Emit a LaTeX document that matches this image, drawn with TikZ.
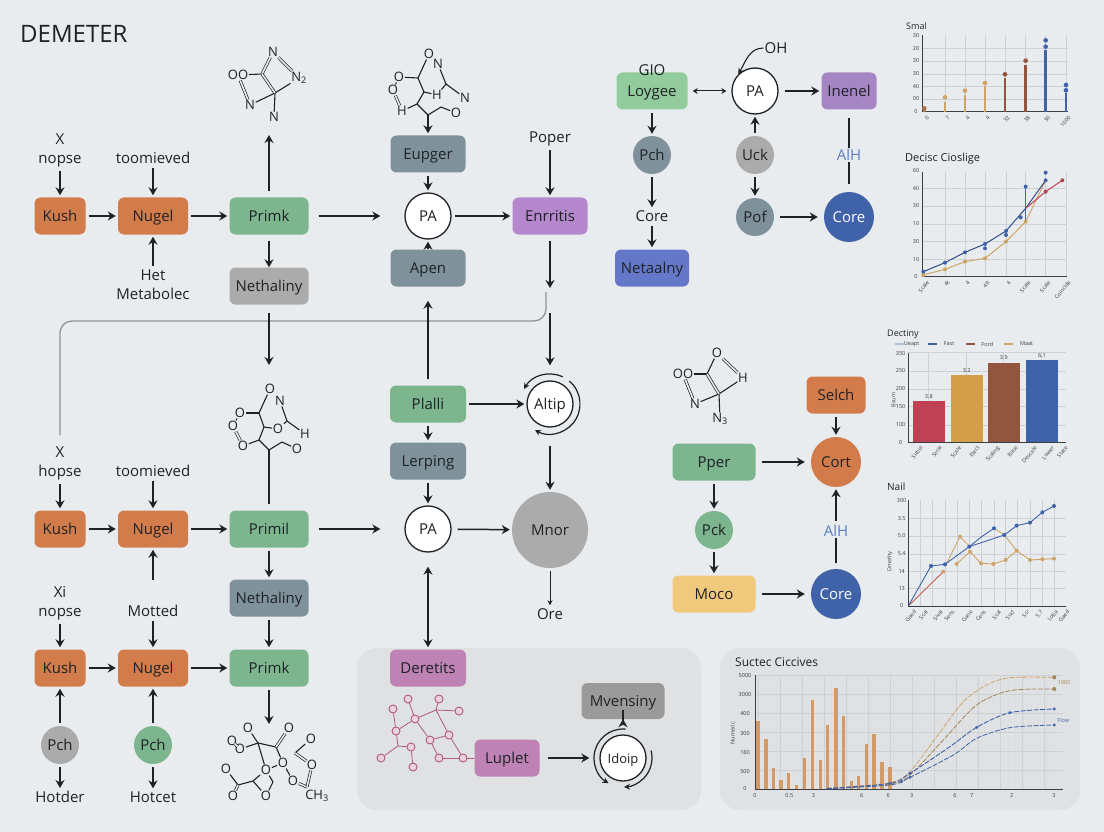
\documentclass[tikz,border=0pt]{standalone}
\usepackage{fontspec}
\usetikzlibrary{arrows.meta}
\setmainfont{Open Sans}
\definecolor{bgcol}{HTML}{E9ECEE}
\definecolor{panelcol}{HTML}{DFE1E3}
\definecolor{inkcol}{HTML}{1E2226}
\definecolor{orangec}{HTML}{D27C4C}
\definecolor{greenc}{HTML}{7DB58F}
\definecolor{lightgreen}{HTML}{93CC9C}
\definecolor{grayc}{HTML}{ABABAB}
\definecolor{slatec}{HTML}{7F929C}
\definecolor{purplec}{HTML}{B587CC}
\definecolor{violetc}{HTML}{A685C4}
\definecolor{pinkc}{HTML}{BE82B4}
\definecolor{indigoc}{HTML}{6577C8}
\definecolor{bluec}{HTML}{3F62A8}
\definecolor{labelblue}{HTML}{5B7FC0}
\definecolor{sandc}{HTML}{F0C97C}
\definecolor{redc}{HTML}{BE4155}
\definecolor{goldc}{HTML}{D49E48}
\definecolor{brownc}{HTML}{92553F}
\definecolor{tanc}{HTML}{CFA468}
\definecolor{barorange}{HTML}{D29A66}
\definecolor{molpink}{HTML}{B0597C}
\definecolor{atompink}{HTML}{EBD3DE}
\definecolor{gridc}{HTML}{CDD1D6}
\definecolor{axisc}{HTML}{3A3F45}

\begin{document}
\begin{tikzpicture}[x=1pt, y=-1pt, >={Stealth[length=8pt,width=9pt]},
    every node/.style={text=inkcol, font=\fontsize{15}{19}\selectfont},
    lbl/.style={align=center, inner sep=1pt},
    stepbox/.style={rectangle, rounded corners=6pt, fill=#1, inner sep=0pt, minimum height=37pt, text height=11pt, text depth=0pt},
    bubble/.style={circle, fill=#1, inner sep=0pt, minimum size=38pt, text height=11pt, text depth=0pt},
    ringnode/.style={circle, draw=inkcol, fill=white, line width=1.3pt, inner sep=0pt, minimum size=46pt, text height=11pt, text depth=0pt},
    arrow/.style={->, line width=1.5pt, draw=inkcol, shorten >=2pt, shorten <=3pt},
    thinarrow/.style={->, >={Stealth[length=5pt,width=5pt]}, line width=1pt, draw=inkcol, shorten >=2pt, shorten <=3pt},
    ring/.style={->, >={Stealth[length=6pt,width=6pt]}, line width=1.2pt, draw=inkcol},
    feedback/.style={line width=1.3pt, draw=gray!85, rounded corners=12pt},
    atom/.style={font=\fontsize{13}{13}\selectfont, inner sep=0.6pt},
    bond/.style={line width=1.1pt, draw=inkcol},
    dbond/.style={line width=.7pt, draw=inkcol, double=bgcol, double distance=1.6pt},
    pinkatom/.style={circle, draw=molpink, fill=atompink, line width=.9pt, inner sep=0pt, minimum size=8pt},
    pinkbond/.style={line width=.8pt, draw=molpink},
    title/.style={font=\fontsize{#1}{#1}\selectfont, anchor=west, inner sep=0pt},
    tick/.style={font=\fontsize{5.5}{6}\selectfont, inner sep=0pt, text=axisc},
    rtick/.style={tick, rotate=50, anchor=north east},
    gline/.style={line width=.4pt, draw=gridc},
    axis/.style={line width=.9pt, draw=axisc}]

\fill [bgcol] (0,0) rectangle (1104,832);
\useasboundingbox (0,0) rectangle (1104,832);
\fill [panelcol, rounded corners=20pt] (357,648) rectangle (701,810);
\fill [panelcol, rounded corners=20pt] (720,648) rectangle (1080,810);

\node [title=24] (demeter) at (20,34) {DEMETER};

% first row
\node [lbl] (xA) at (60,150) {X\\nopse};
\node [lbl] (toomA) at (153,158) {toomieved};
\node [lbl] (hetA) at (153,285) {Het\\Metabolec};
\node [stepbox=orangec, minimum width=51pt] (kushA) at (60,216) {Kush};
\node [stepbox=orangec, minimum width=70pt] (nugelA) at (153,216) {Nugel};
\node [stepbox=greenc, minimum width=79pt] (primkA) at (269,216) {Primk};
\node [stepbox=grayc, minimum width=79pt] (nethA) at (269,286) {Nethaliny};
\node [ringnode] (paA) at (428,216) {PA};
\node [stepbox=slatec, minimum width=75pt] (eupger) at (428,154) {Eupger};
\node [stepbox=slatec, minimum width=75pt] (apen) at (428,268) {Apen};
\node [stepbox=purplec, minimum width=75pt] (enrritis) at (550,216) {Enrritis};
\node [lbl] (poper) at (550,139) {Poper};
\coordinate (molAbase) at (269,135);
\coordinate (molBbase) at (428,114);
\coordinate (enrEnd) at (550,288);
\coordinate (altTop) at (550,313);
\coordinate (fbEnd) at (546,292);
\coordinate (fbTop) at (546,321);

\draw [arrow] (xA) -- (kushA);
\draw [arrow] (toomA) -- (nugelA);
\draw [arrow] (hetA) -- (nugelA);
\draw [arrow] (kushA) -- (nugelA);
\draw [arrow] (nugelA) -- (primkA);
\draw [arrow, shorten <=10pt, shorten >=24pt] (primkA) -- (paA);
\draw [arrow, shorten <=6pt, shorten >=0pt] (primkA) -- (molAbase);
\draw [arrow, shorten <=6pt, shorten >=0pt] (primkA) -- (nethA);
\draw [arrow, shorten <=0pt] (molBbase) -- (eupger);
\draw [arrow] (eupger) -- (paA);
\draw [arrow, shorten <=0pt] (apen) -- (paA);
\draw [arrow] (paA) -- (enrritis);
\draw [arrow] (poper) -- (enrritis);
\draw [arrow, shorten <=6pt, shorten >=0pt] (enrritis) -- (enrEnd);

% second row
\node [lbl] (xB) at (60,463) {X\\hopse};
\node [lbl] (toomB) at (153,471) {toomieved};
\node [stepbox=orangec, minimum width=51pt] (kushB) at (60,529) {Kush};
\node [stepbox=orangec, minimum width=70pt] (nugelB) at (153,529) {Nugel};
\node [stepbox=greenc, minimum width=79pt] (primilB) at (269,529) {Primil};
\node [stepbox=slatec, minimum width=79pt] (nethB) at (269,598) {Nethaliny};
\node [stepbox=greenc, minimum width=76pt] (plalli) at (428,404) {Plalli};
\node [ringnode] (altip) at (550,404) {Altip};
\node [stepbox=slatec, minimum width=76pt] (lerping) at (428,461) {Lerping};
\node [ringnode] (paB) at (428,529) {PA};
\node [bubble=grayc, minimum size=76pt] (mnor) at (550,530) {Mnor};
\node [lbl] (ore) at (550,614) {Ore};
\coordinate (molCnet) at (269,367);
\coordinate (molCfoot) at (269,450);
\coordinate (nethTail) at (269,313);

\draw [feedback, shorten <=10pt] (xB) |- (fbTop) -- (fbEnd);
\draw [arrow, shorten <=0pt] (nethTail) -- (molCnet);
\draw [arrow, shorten <=0pt, shorten >=15pt] (altTop) -- (altip);
\draw [arrow, shorten <=6pt, shorten >=14pt] (plalli) -- (apen);
\draw [arrow] (plalli) -- (altip);
\draw [arrow] (plalli) -- (lerping);
\draw [arrow] (lerping) -- (paB);
\draw [ring] (altip) ++(-50:30) arc (-50:120:30);
\draw [ring] (altip) ++(-65:30) arc (-65:-150:30);
\draw [arrow, shorten <=18pt] (altip) -- (mnor);
\draw [arrow, shorten <=6pt] (paB) -- (mnor);
\draw [thinarrow] (mnor) -- (ore);
\draw [arrow] (xB) -- (kushB);
\draw [arrow] (toomB) -- (nugelB);
\draw [arrow] (kushB) -- (nugelB);
\draw [arrow] (nugelB) -- (primilB);
\draw [arrow, shorten <=10pt, shorten >=24pt] (primilB) -- (paB);
\draw [line width=1.3pt, draw=inkcol, shorten >=6pt] (molCfoot) -- (primilB);
\draw [arrow] (primilB) -- (nethB);

% third row
\node [lbl] (xC) at (60,603) {Xi\\nopse};
\node [lbl] (mottedC) at (153,611) {Motted};
\node [stepbox=orangec, minimum width=51pt] (kushC) at (60,668) {Kush};
\node [stepbox=orangec, minimum width=70pt] (nugelC) at (153,668) {Nugel};
\node [stepbox=greenc, minimum width=79pt] (primkC) at (269,668) {Primk};
\node [bubble=grayc] (pchC) at (60,745) {Pch};
\node [bubble=greenc] (pchD) at (153,745) {Pch};
\node [lbl] (hotder) at (60,797) {Hotder};
\node [lbl] (hotcet) at (153,797) {Hotcet};
\coordinate (molDtop) at (269,724);
\coordinate (mottedUp) at (153,580);

\draw [arrow] (xC) -- (kushC);
\draw [arrow] (mottedC) -- (nugelC);
\draw [arrow, shorten <=0pt] (mottedUp) -- (nugelB);
\draw [arrow] (kushC) -- (nugelC);
\draw [arrow] (nugelC) -- (primkC);
\draw [arrow] (nethB) -- (primkC);
\draw [arrow, shorten >=0pt] (primkC) -- (molDtop);
\draw [arrow] (pchC) -- (kushC);
\draw [arrow] (pchD) -- (nugelC);
\draw [arrow] (pchC) -- (hotder);
\draw [arrow] (pchD) -- (hotcet);

% top right
\node [stepbox=lightgreen, minimum width=71pt] (loygee) at (652,91) {Loygee};
\node [lbl] (gio) at (652,70) {GIO};
\node [ringnode] (paC) at (755,91) {PA};
\node [stepbox=violetc, minimum width=55pt] (inenel) at (849,91) {Inenel};
\node [lbl] (oh) at (776,48) {OH};
\node [bubble=slatec] (pchE) at (652,155) {Pch};
\node [lbl] (coreT) at (652,216) {Core};
\node [stepbox=indigoc, minimum width=74pt] (netaal) at (652,268) {Netaalny};
\node [bubble=grayc] (uck) at (755,155) {Uck};
\node [bubble=slatec] (pof) at (755,217) {Pof};
\node [bubble=bluec, minimum size=50pt] (coreA) at (849,217) {\textcolor{white}{Core}};
\node [lbl, text=labelblue, fill=bgcol] (alhA) at (849,155) {AlH};

\draw [<->, >={Stealth[length=5pt,width=6pt]}, line width=1pt, draw=inkcol, shorten >=5pt, shorten <=5pt] (loygee) -- (paC);
\draw [arrow, shorten <=6pt] (paC) -- (inenel);
\draw [->, >={Stealth[length=6pt,width=6pt]}, line width=1.1pt, draw=inkcol] (oh) to [out=180, in=60] (paC.135);
\draw [arrow] (loygee) -- (pchE);
\draw [arrow] (pchE) -- (coreT);
\draw [arrow] (coreT) -- (netaal);
\draw [arrow] (uck) -- (paC);
\draw [arrow] (uck) -- (pof);
\draw [arrow, shorten <=6pt, shorten >=6pt] (pof) -- (coreA);
\draw [line width=1.3pt, draw=inkcol, shorten <=8pt] (inenel) -- (alhA);
\draw [line width=1.3pt, draw=inkcol, shorten <=8pt] (coreA) -- (alhA);

% lower right
\node [stepbox=orangec, minimum width=59pt] (selch) at (836,395) {Selch};
\node [bubble=orangec, minimum size=50pt] (cort) at (836,462) {Cort};
\node [stepbox=greenc, minimum width=83pt] (pper) at (714,462) {Pper};
\node [bubble=greenc] (pck) at (714,530) {Pck};
\node [stepbox=sandc, minimum width=83pt] (moco) at (714,594) {Moco};
\node [bubble=bluec, minimum size=50pt] (coreB) at (836,594) {\textcolor{white}{Core}};
\node [lbl, text=labelblue, fill=bgcol] (alhB) at (836,531) {AlH};

\draw [arrow] (selch) -- (cort);
\draw [arrow, shorten <=6pt, shorten >=6pt] (pper) -- (cort);
\draw [arrow] (pper) -- (pck);
\draw [arrow] (pck) -- (moco);
\draw [arrow, shorten <=6pt, shorten >=6pt] (moco) -- (coreB);
\draw [arrow] (alhB) -- (cort);
\draw [line width=1.3pt, draw=inkcol, shorten <=6pt] (coreB) -- (alhB);

% lower panel
\node [stepbox=pinkc, minimum width=76pt] (deretits) at (428,668) {Deretits};
\node [stepbox=pinkc, minimum width=65pt] (luplet) at (507,758) {Luplet};
\node [stepbox=grayc!90!black, minimum width=83pt, minimum height=36pt] (mvensiny) at (623,701) {Mvensiny};
\node [ringnode, font=\fontsize{13}{13}\selectfont] (idoip) at (623,758) {Idoip};

\draw [<->, line width=1.5pt, draw=inkcol, shorten >=2pt, shorten <=14pt] (paB) -- (deretits);
\draw [arrow, shorten <=8pt, shorten >=10pt] (luplet) -- (idoip);
\draw [ring] (idoip) ++(-15:29) arc (-15:88:29);
\draw [ring] (idoip) ++(-85:29) arc (-85:-240:29);
\draw [arrow, shorten <=24pt, shorten >=0pt] (idoip) -- (mvensiny);

% molecules
\foreach \n/\px/\py/\s in {mAa/273/52/N, mAb/299/78/N\textsubscript{2}, mAc/238/75/OO, mAd/250/105/N, mAe/274/117/N}
  \node [atom] (\n) at (\px,\py) {\s};
\coordinate (mAf) at (262,74);
\coordinate (mAg) at (275,93);
\foreach \a/\b in {mAc/mAf, mAg/mAb, mAg/mAe, mAg/mAd} \draw [bond] (\a) -- (\b);
\foreach \a/\b in {mAf/mAa, mAa/mAb, mAf/mAg, mAd/mAc} \draw [dbond] (\a) -- (\b);

\foreach \n/\px/\py/\s in {mBa/429/54/O, mBb/438/64/N, mBc/399/77/O, mBd/393/90/O, mBe/402/111/H, mBf/465/98/N, mBg/456/113/O, mBh/437/95/H}
  \node [atom] (\n) at (\px,\py) {\s};
\foreach \n/\px/\py in {mBi/418/78, mBj/424/92, mBk/417/104, mBl/428/115, mBm/441/107, mBn/446/84}
  \coordinate (\n) at (\px,\py);
\foreach \a/\b in {mBa/mBi, mBi/mBc, mBc/mBd, mBe/mBk, mBi/mBj, mBj/mBk, mBk/mBl, mBl/mBm, mBm/mBg, mBj/mBh, mBh/mBn, mBn/mBb, mBn/mBf}
  \draw [bond] (\a) -- (\b);
\draw [dbond] (mBd) -- (mBe);

\foreach \n/\px/\py/\s in {mCa/270/389/O, mCb/280/401/N, mCc/240/413/O, mCd/233/426/O, mCe/243/446/O, mCf/297/449/O, mCg/305/434/H, mCh/278/429/O}
  \node [atom] (\n) at (\px,\py) {\s};
\foreach \n/\px/\py in {mCi/259/413, mCj/264/427, mCk/259/440, mCl/287/421, mCm/282/442}
  \coordinate (\n) at (\px,\py);
\foreach \a/\b in {mCa/mCi, mCi/mCc, mCc/mCd, mCi/mCj, mCj/mCk, mCk/mCe, mCk/molCfoot, molCfoot/mCm, mCm/mCf, mCj/mCh, mCh/mCl, mCl/mCb, mCl/mCg}
  \draw [bond] (\a) -- (\b);
\draw [dbond] (mCd) -- (mCe);

\foreach \n/\px/\py/\s in {mDa/248/728/O, mDb/289/728/O, mDc/232/741/O, mDd/311/739/O, mDe/240/749/O, mDf/283/763/O, mDg/312/765/O, mDh/226/769/O, mDi/266/770/O, mDj/293/781/O, mDk/233/796/O, mDl/266/796/O, mDm/317/796/CH\textsubscript{3}}
  \node [atom] (\n) at (\px,\py) {\s};
\foreach \n/\px/\py in {mDn/258/743, mDo/276/747, mDq/295/753, mDr/238/785, mDs/253/781, mDt/273/782, mDu/307/787}
  \coordinate (\n) at (\px,\py);
\foreach \a/\b in {mDa/mDn, mDn/mDo, mDo/mDf, mDf/mDi, mDe/mDn, mDi/mDn, mDi/mDt, mDt/mDl, mDl/mDs, mDs/mDr, mDs/mDi, mDf/mDj, mDd/mDq, mDr/mDh}
  \draw [bond] (\a) -- (\b);
\foreach \a/\b in {mDo/mDb, mDc/mDe, mDq/mDg, mDr/mDk, mDj/mDu, mDg/mDu}
  \draw [dbond] (\a) -- (\b);

\foreach \n/\px/\py/\s in {mEa/717/353/O, mEb/683/374/OO, mEc/743/378/H, mEd/695/404/N, mEe/720/419/N\textsubscript{3}}
  \node [atom] (\n) at (\px,\py) {\s};
\coordinate (mEf) at (707,374);
\coordinate (mEg) at (719,394);
\foreach \a/\b in {mEb/mEf, mEf/mEa, mEg/mEc, mEg/mEd, mEg/mEe} \draw [bond] (\a) -- (\b);
\foreach \a/\b in {mEa/mEc, mEf/mEg, mEd/mEb} \draw [dbond] (\a) -- (\b);

\foreach \n/\px/\py in {mFa/408/699, mFb/439/699, mFc/393/709, mFd/459/711, mFe/415/719, mFf/396/731, mFg/430/740, mFh/449/735, mFi/411/747, mFj/439/758, mFk/463/758, mFl/381/758, mFm/413/767}
  \node [pinkatom] (\n) at (\px,\py) {};
\foreach \n/\px/\py in {mFn/436/710, mFo/398/746}
  \coordinate (\n) at (\px,\py);
\foreach \a/\b in {mFa/mFe, mFe/mFn, mFn/mFb, mFn/mFd, mFn/mFh, mFc/mFf, mFe/mFg, mFg/mFh, mFe/mFf, mFf/mFo, mFo/mFi, mFo/mFl, mFi/mFm, mFg/mFj, mFh/mFk, mFj/mFk}
  \draw [pinkbond] (\a) -- (\b);
\draw [pinkbond] (mFk) -- (luplet);

% chart 1
\node [title=9] (smal) at (906,26) {Smal};
\begin{scope}[shift={(880,0)}, x=.3333pt, y=-.3333pt]
\foreach \x in {195,255,315,375,437,497,558} \draw [gline] (\x,105) -- (\x,335);
\foreach \y in {145,183,222,260,297} \draw [gline] (126,\y) -- (565,\y);
\draw [axis] (126,105) -- (126,335) -- (565,335);
\foreach \y/\s in {108/30,145/20,183/30,222/30,260/40,297/00,335/0} \node [tick] at (108,\y) {\s};
\foreach \x/\s in {133/0,195/7,255/4,315/4,375/32,437/38,497/30,558/1000} \node [rtick] at (\x+6,345) {\s};
\foreach \x/\t/\d/\c in {133/325/325/brownc!60!tanc, 195/305/292/tanc, 255/285/272/tanc, 315/258/249/tanc, 375/235/223/brownc, 437/195/182/brownc, 497/150/140/bluec, 558/278/271/bluec} {
  \fill [\c] (\x-4,335) rectangle (\x+4,\t);
  \fill [\c] (\x,\d) circle (7);
}
\fill [bluec] (497,121) circle (7);
\fill [bluec] (558,255) circle (7);
\end{scope}

% chart 2
\node [title=11] (decisc) at (905,159) {Decisc Cioslige};
\begin{scope}[shift={(880,0)}, x=.3333pt, y=-.3333pt]
\foreach \x in {195,255,315,378,437,497,558} \draw [gline] (\x,515) -- (\x,830);
\foreach \y in {565,618,672,725,778} \draw [gline] (126,\y) -- (560,\y);
\draw [axis] (126,515) -- (126,830) -- (560,830);
\foreach \y/\s in {513/60,565/40,618/30,672/10,725/30,778/10,830/0} \node [tick] at (108,\y) {\s};
\foreach \x/\s in {133/Scale,195/4t,255/4,315/4tt,378/4,437/Scale,497/Scale,558/Coincide} \node [rtick] at (\x+6,840) {\s};
\draw [line width=.9pt, draw=bluec] (437,560) -- (437,665);
\draw [line width=1pt, draw=tanc] plot coordinates {(130,825) (195,808) (255,785) (315,775) (378,725) (437,665) (497,541)};
\draw [line width=1pt, draw=bluec!80!black] plot coordinates {(130,815) (195,788) (255,757) (315,732) (378,693) (437,625) (497,541)};
\draw [line width=1pt, draw=redc] plot coordinates {(437,625) (497,575) (547,541)};
\foreach \x/\y in {130/825, 195/808, 255/785, 315/775, 378/725, 437/665} \fill [tanc] (\x,\y) circle (6);
\foreach \x/\y in {130/815, 195/788, 255/757, 315/732, 315/745, 378/693, 378/705, 422/652, 437/560, 497/541, 497/518} \fill [bluec] (\x,\y) circle (6);
\foreach \x/\y in {497/575, 547/541} \fill [redc!70!brownc] (\x,\y) circle (6);
\end{scope}

% chart 3
\node [title=9] (deciny) at (887,334) {Dectiny};
\begin{scope}[shift={(880,320)}, x=.3333pt, y=-.3333pt]
\foreach \x/\c/\t/\s in {45/bluec!40/95/Ueapt, 145/bluec/207/Fast, 258/brownc/322/Ford, 372/tanc/440/Maat} {
  \draw [line width=1.2pt, draw=\c] (\x,72) -- (\x+27,72);
  \node [tick] at (\t,72) {\s};
}
\foreach \x in {145,258,370,483} \draw [gline] (\x,98) -- (\x,368);
\foreach \y in {98,153,207,260,315} \draw [gline] (85,\y) -- (558,\y);
\foreach \xa/\xb/\t/\c/\v in {98/195/243/redc/3.8, 212/308/165/goldc/3.2, 323/420/128/brownc/3.9, 437/535/121/bluec/6.1} {
  \fill [\c] (\xa,368) rectangle (\xb,\t);
  \node [tick] at (\xa/2+\xb/2,\t-14) {\v};
}
\draw [axis] (85,98) -- (85,368) -- (558,368);
\foreach \y/\s in {100/350,153/250,207/200,260/150,315/100,368/0} \node [tick] at (62,\y) {\s};
\node [tick, rotate=90] (bsum) at (40,240) {Bsum};
\foreach \x/\s in {120/Subst, 178/Strat, 235/Scale, 290/Elect, 350/Scaling, 405/Base, 462/Descale, 515/Lower, 555/State}
  \node [rtick] at (\x,376) {\s};
\end{scope}

% chart 4
\node [title=10] (nail) at (887,487) {Nail};
\begin{scope}[shift={(880,320)}, x=.3333pt, y=-.3333pt]
\foreach \x in {122,158,195,232,268,305,342,377,412,450,487,522} \draw [gline] (\x,540) -- (\x,858);
\foreach \y in {595,648,702,755,805} \draw [gline] (85,\y) -- (558,\y);
\draw [axis] (85,540) -- (85,858) -- (558,858);
\foreach \y/\s in {542/300,595/3.5,648/5.0,702/5.4,755/14,805/13,858/0} \node [tick] at (65,\y) {\s};
\node [tick, rotate=90] (dmethy) at (30,725) {Dmethy};
\foreach \x/\s in {100/Gaed, 135/Scal, 180/Sival, 215/Sens, 270/Gane, 310/Cens, 355/Scal, 395/Sucl, 440/Scr, 480/5.7, 525/Loba, 560/Gaed}
  \node [rtick] at (\x,868) {\s};
\draw [line width=.9pt, draw=redc!70!tanc] (85,858) -- (190,755);
\draw [line width=.9pt, draw=tanc] plot coordinates {(195,740) (240,650) (270,680)};
\draw [line width=.9pt, draw=tanc] plot coordinates {(230,732) (270,695) (303,730) (340,732) (377,720) (410,692) (450,720) (487,718) (522,716)};
\draw [line width=.9pt, draw=tanc] plot coordinates {(342,625) (373,645) (410,692)};
\draw [line width=.9pt, draw=bluec] plot coordinates {(85,858) (153,738) (195,733) (268,680) (305,650) (342,625)};
\draw [line width=.9pt, draw=bluec] plot coordinates {(268,680) (373,645) (410,617) (450,608) (487,577) (522,558)};
\foreach \x/\y in {190/755, 230/732, 240/650, 270/695, 303/730, 340/732, 377/720, 410/692, 450/720, 487/718, 522/716} \fill [tanc] (\x,\y) circle (6);
\foreach \x/\y in {153/738, 195/733, 268/680, 342/625, 373/645, 410/617, 450/608, 487/577, 522/558} \fill [bluec] (\x,\y) circle (6);
\end{scope}

% chart 5
\node [title=12] (suctec) at (735,662) {Suctec Ciccives};
\begin{scope}[shift={(710,640)}, x=.3333pt, y=-.3333pt]
\foreach \x in {0,...,39} \draw [gline, draw=gridc!70] (135+\x*23,105) -- (135+\x*23,447);
\foreach \x in {0,...,13} \draw [gline] (145+\x*66,105) -- (145+\x*66,447);
\foreach \y in {0,...,5} \draw [gline] (135,105+\y*57) -- (1060,105+\y*57);
\draw [axis] (135,105) -- (135,447) -- (1060,447);
\foreach \y/\s in {108/5000,165/3000,222/400,280/300,337/180,394/500,447/0} \node [tick] at (105,\y) {\s};
\node [tick, rotate=90] (numeric) at (68,280) {Numeric};
\foreach \x/\s in {135/0,238/0.5,310/3,455/6,535/6,605/3,735/6,785/7,905/2,1032/3} \node [tick] at (\x,468) {\s};
\foreach \x/\t in {144/243,168/298,191/383,213/420,236/400,260/435,283/354,307/180,331/360,353/254,378/144,401/227,424/424,446/408,469/312,492/281,516/367,540/380}
  \fill [barorange] (\x-5,447) rectangle (\x+5,\t);
\draw [line width=.8pt, draw=tanc, dash pattern=on 5pt off 1.5pt] plot [smooth] coordinates {(350,445) (540,428) (600,395) (680,290) (760,185) (830,135) (900,113) (1033,112)};
\draw [line width=.8pt, draw=tanc!80!black, dash pattern=on 5pt off 1.5pt] plot [smooth] coordinates {(350,445) (540,432) (600,405) (700,300) (800,195) (900,152) (1033,147)};
\draw [line width=.9pt, draw=bluec, dash pattern=on 5pt off 1.5pt] plot [smooth] coordinates {(350,446) (540,430) (600,400) (720,320) (800,262) (900,218) (1033,207)};
\draw [line width=.8pt, draw=bluec, dash pattern=on 5pt off 1.5pt] plot [smooth] coordinates {(350,446) (540,435) (600,412) (730,345) (800,295) (900,263) (1033,255)};
\foreach \x/\y in {1033/112, 1033/147} \fill [tanc!80!black] (\x,\y) circle (6);
\foreach \x/\y in {1033/207, 1033/255, 900/218, 800/262, 600/400, 600/412, 540/430, 575/425} \fill [bluec] (\x,\y) circle (5);
\node [tick, text=tanc!80!black] (valA) at (1062,128) {1000};
\node [tick, text=bluec] (valB) at (1060,242) {Flow};
\end{scope}

\end{tikzpicture}
\end{document}
